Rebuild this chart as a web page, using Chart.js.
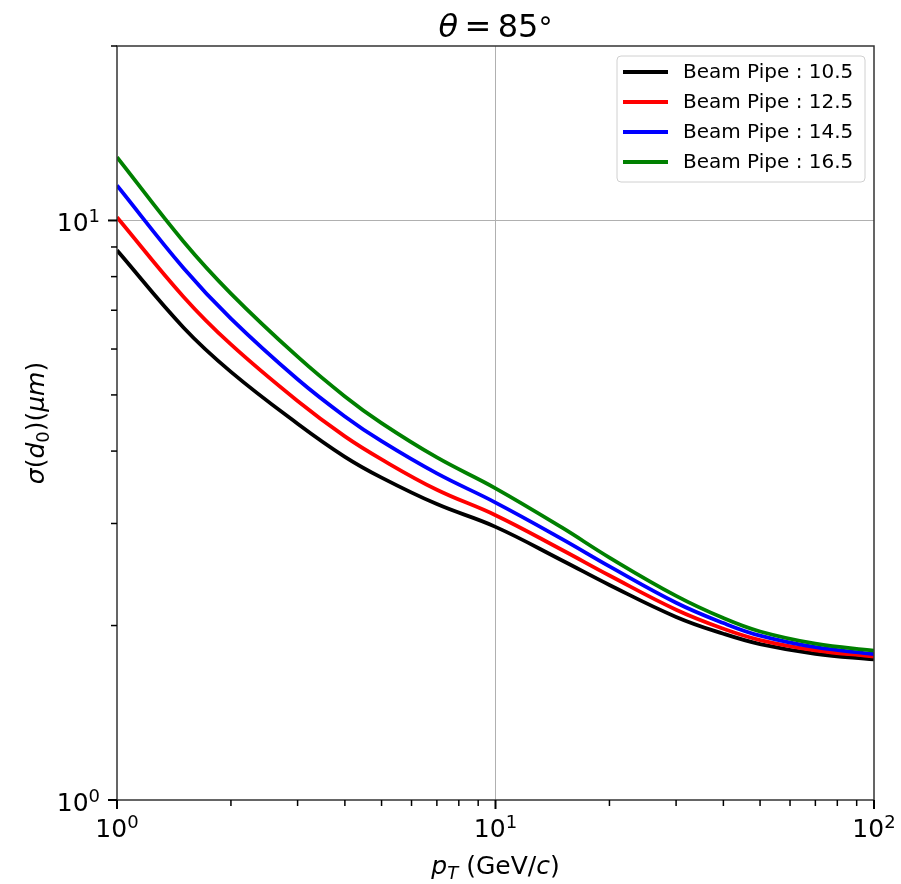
<!DOCTYPE html>
<html>
<head>
<meta charset="utf-8">
<title>theta = 85</title>
<script src="https://cdn.jsdelivr.net/npm/chart.js@4.4.1/dist/chart.umd.min.js"></script>
<style>
  html, body { margin: 0; padding: 0; background: #fff; }
  canvas { display: block; }
</style>
</head>
<body>
<canvas id="myChart" width="901" height="884"></canvas>
<script>
// pT (GeV/c) where the curves were read
const pt = [1, 1.5, 2, 3, 4, 5, 7, 10, 15, 20, 30, 40, 50, 70, 100];
// sigma(d0) in um, one array per beam pipe radius
const bp105 = [8.88, 6.53, 5.48, 4.46, 3.91, 3.60, 3.24, 2.96, 2.59, 2.35, 2.07, 1.936, 1.858, 1.788, 1.748];
const bp125 = [10.13, 7.38, 6.11, 4.88, 4.24, 3.87, 3.43, 3.10, 2.70, 2.44, 2.13, 1.975, 1.888, 1.813, 1.768];
const bp145 = [11.49, 8.27, 6.77, 5.32, 4.59, 4.16, 3.66, 3.26, 2.82, 2.53, 2.19, 2.02, 1.921, 1.835, 1.786];
const bp165 = [12.86, 9.19, 7.48, 5.82, 4.97, 4.47, 3.90, 3.45, 2.95, 2.62, 2.25, 2.06, 1.953, 1.861, 1.810];

const seriesLabels = ['Beam Pipe : 10.5', 'Beam Pipe : 12.5', 'Beam Pipe : 14.5', 'Beam Pipe : 16.5'];
const seriesColors = ['#000000', '#ff0000', '#0000ff', '#008000'];

// log axis ticks; majors carry a label (base, exponent)
const xTicks = [1, 2, 3, 4, 5, 6, 7, 8, 9, 10, 20, 30, 40, 50, 60, 70, 80, 90, 100];
const yTicks = [1, 2, 3, 4, 5, 6, 7, 8, 9, 10, 20];
const xTickLabels = { 1: ['10', '0'], 10: ['10', '1'], 100: ['10', '2'] };
const yTickLabels = { 1: ['10', '0'], 10: ['10', '1'] };

const FONT = '"DejaVu Sans", sans-serif';

// width of a row of text pieces
function runsWidth(ctx, runs) {
    let w = 0;
    runs.forEach(r => { ctx.font = r.font; w += ctx.measureText(r.text).width; });
    return w;
}

// draws a row of text pieces starting at x (for sub/superscripts)
function drawRunsAt(ctx, runs, x, y) {
    let cx = x;
    runs.forEach(r => {
        ctx.font = r.font;
        ctx.fillText(r.text, cx, y + (r.dy || 0));
        cx += ctx.measureText(r.text).width;
    });
}

function drawRuns(ctx, runs, x, y) {
    drawRunsAt(ctx, runs, x - runsWidth(ctx, runs) / 2, y);
}

function powRuns(lab) {
    return [
        { text: lab[0], font: '25px ' + FONT },
        { text: lab[1], font: '18px ' + FONT, dy: -9 }
    ];
}

const decor = {
    id: 'decor',
    afterDraw(chart) {
        const { ctx, chartArea: a, scales } = chart;
        ctx.save();

        // frame
        ctx.strokeStyle = '#333333';
        ctx.lineWidth = 1.5;
        ctx.strokeRect(a.left, a.top, a.right - a.left, a.bottom - a.top);

        // tick marks and tick labels
        ctx.fillStyle = '#000000';
        ctx.textAlign = 'left';
        ctx.textBaseline = 'alphabetic';
        ctx.strokeStyle = '#000000';
        scales.x.ticks.forEach(t => {
            const px = scales.x.getPixelForValue(t.value);
            const lab = xTickLabels[t.value];
            ctx.lineWidth = lab ? 2 : 1.5;
            ctx.beginPath();
            ctx.moveTo(px, a.bottom);
            ctx.lineTo(px, a.bottom + (lab ? 9 : 6));
            ctx.stroke();
            if (lab) drawRuns(ctx, powRuns(lab), px, a.bottom + 37);
        });
        scales.y.ticks.forEach(t => {
            const py = scales.y.getPixelForValue(t.value);
            const lab = yTickLabels[t.value];
            ctx.lineWidth = lab ? 2 : 1.5;
            ctx.beginPath();
            ctx.moveTo(a.left, py);
            ctx.lineTo(a.left - (lab ? 9 : 6), py);
            ctx.stroke();
            if (lab) {
                const runs = powRuns(lab);
                drawRunsAt(ctx, runs, a.left - 17 - runsWidth(ctx, runs), py + 11);
            }
        });

        // title and axis titles
        const cx = (a.left + a.right) / 2;
        drawRuns(ctx, [
            { text: '\u03b8', font: 'italic 32px ' + FONT },
            { text: '\u2009=\u200985', font: '32px ' + FONT },
            { text: '\u00b0', font: '28px ' + FONT }
        ], cx, 37);

        drawRuns(ctx, [
            { text: 'p', font: 'italic 25px ' + FONT },
            { text: 'T', font: 'italic 18px ' + FONT, dy: 5 },
            { text: ' (GeV/', font: '25px ' + FONT },
            { text: 'c', font: 'italic 25px ' + FONT },
            { text: ')', font: '25px ' + FONT }
        ], cx, 874);

        ctx.save();
        ctx.translate(44, (a.top + a.bottom) / 2);
        ctx.rotate(-Math.PI / 2);
        drawRuns(ctx, [
            { text: '\u03c3', font: 'italic 25px ' + FONT },
            { text: '(', font: '25px ' + FONT },
            { text: 'd', font: 'italic 25px ' + FONT },
            { text: '0', font: '18px ' + FONT, dy: 5 },
            { text: ')(', font: '25px ' + FONT },
            { text: '\u03bcm', font: 'italic 25px ' + FONT },
            { text: ')', font: '25px ' + FONT }
        ], 0, 0);
        ctx.restore();

        // legend box in the upper right corner
        const bw = 248, bh = 126;
        const bx = a.right - 9 - bw, by = a.top + 10;
        ctx.beginPath();
        ctx.roundRect(bx, by, bw, bh, 4);
        ctx.fillStyle = 'rgba(255,255,255,0.8)';
        ctx.fill();
        ctx.strokeStyle = '#d0d0d0';
        ctx.lineWidth = 1;
        ctx.stroke();
        ctx.font = '20px ' + FONT;
        ctx.textBaseline = 'middle';
        chart.data.datasets.forEach((ds, i) => {
            const ly = by + 16 + i * 30;
            ctx.strokeStyle = ds.borderColor;
            ctx.lineWidth = 3.8;
            ctx.beginPath();
            ctx.moveTo(bx + 6, ly);
            ctx.lineTo(bx + 51, ly);
            ctx.stroke();
            ctx.fillStyle = '#000000';
            ctx.fillText(ds.label, bx + 66, ly + 1);
        });

        ctx.restore();
    }
};

const seriesValues = [bp105, bp125, bp145, bp165];

const ctx = document.getElementById('myChart').getContext('2d');
new Chart(ctx, {
    type: 'line',
    data: {
        datasets: seriesValues.map((vals, i) => ({
            label: seriesLabels[i],
            data: pt.map((x, j) => ({ x: x, y: vals[j] })),
            borderColor: seriesColors[i],
            backgroundColor: seriesColors[i],
            borderWidth: 3.8,
            pointRadius: 0,
            fill: false,
            tension: 0.4,
            order: seriesValues.length - i
        }))
    },
    options: {
        responsive: false,
        animation: false,
        layout: { padding: { top: 46, right: 27, left: 0, bottom: 0 } },
        plugins: {
            legend: { display: false },
            title: { display: false },
            tooltip: { enabled: false }
        },
        scales: {
            x: {
                type: 'logarithmic',
                min: 1,
                max: 100,
                afterBuildTicks: s => { s.ticks = xTicks.map(v => ({ value: v })); },
                afterFit: s => { s.height = 84; },
                border: { display: false },
                grid: {
                    drawTicks: false,
                    color: c => (c.tick && c.tick.value === 10) ? '#b0b0b0' : 'rgba(0,0,0,0)',
                    lineWidth: 1
                },
                ticks: { display: false, autoSkip: false, maxRotation: 0 }
            },
            y: {
                type: 'logarithmic',
                min: 1,
                max: 20,
                afterBuildTicks: s => { s.ticks = yTicks.map(v => ({ value: v })); },
                afterFit: s => { s.width = 117; },
                border: { display: false },
                grid: {
                    drawTicks: false,
                    color: c => (c.tick && c.tick.value === 10) ? '#b0b0b0' : 'rgba(0,0,0,0)',
                    lineWidth: 1
                },
                ticks: { display: false, autoSkip: false }
            }
        }
    },
    plugins: [decor]
});
</script>
</body>
</html>
